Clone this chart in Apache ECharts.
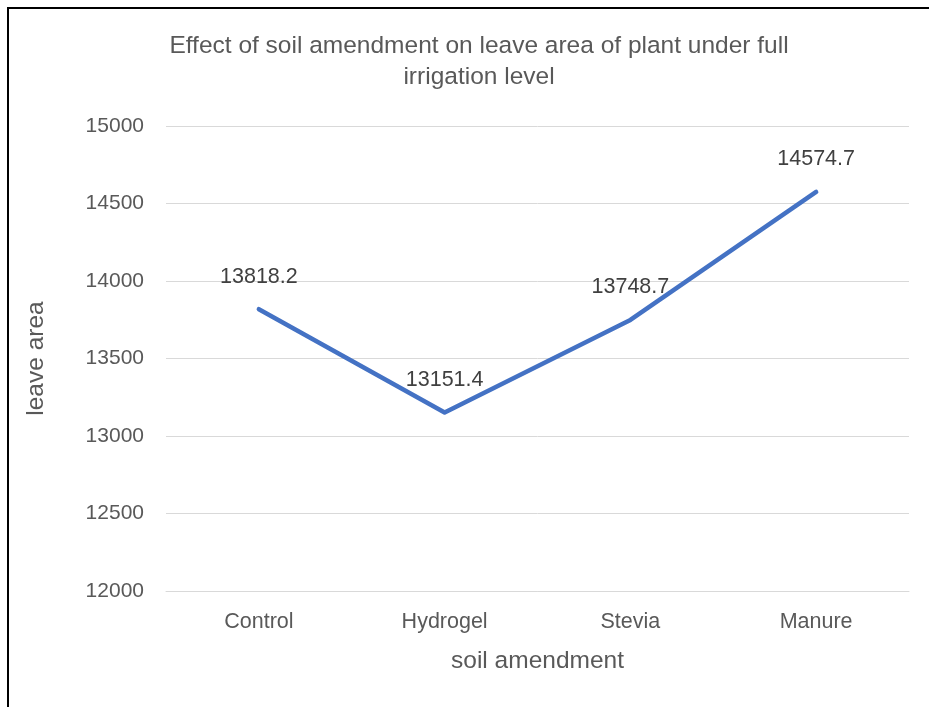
<!DOCTYPE html>
<html>
<head>
<meta charset="utf-8">
<script src="https://cdn.jsdelivr.net/npm/echarts@6/dist/echarts.min.js"></script>
<style>
    body { margin: 0; background: #fff; }
    .wrap { position: relative; width: 929px; height: 707px; }
    #chart { width: 929px; height: 707px; }
    .frame {
        position: absolute; left: 7px; top: 7px; right: -10px; bottom: -10px;
        border-left: 2px solid #000; border-top: 2px solid #000;
        pointer-events: none;
    }
</style>
</head>
<body>
<div class="wrap">
    <div id="chart"></div>
    <div class="frame"></div>
</div>
<script>
    // soil amendments on the x axis
    var categories = ['Control', 'Hydrogel', 'Stevia', 'Manure'];
    // leave area under full irrigation
    var leaveArea = [13818.2, 13151.4, 13748.7, 14574.7];

    var font = 'Liberation Sans, Arial, sans-serif';
    var chart = echarts.init(document.getElementById('chart'));
    chart.setOption({
        animation: false,
        title: {
            text: 'Effect of soil amendment on leave area of plant under full\nirrigation level',
            left: 474,
            top: 26,
            textAlign: 'center',
            textStyle: {
                fontFamily: font,
                fontSize: 24.5,
                fontWeight: 'normal',
                color: '#595959',
                lineHeight: 31,
                align: 'center'
            }
        },
        grid: {
            left: 166,
            right: 20,
            top: 126,
            bottom: 116
        },
        xAxis: {
            type: 'category',
            data: categories,
            boundaryGap: true,
            name: 'soil amendment',
            nameLocation: 'middle',
            nameGap: 58,
            nameTextStyle: { fontFamily: font, fontSize: 24.5, color: '#595959' },
            axisLine: { show: true, lineStyle: { color: '#d9d9d9', width: 1 } },
            axisTick: { show: false },
            axisLabel: { fontFamily: font, fontSize: 21.5, color: '#595959', margin: 20 }
        },
        yAxis: {
            type: 'value',
            min: 12000,
            max: 15000,
            interval: 500,
            name: 'leave area',
            nameLocation: 'middle',
            nameGap: 117,
            nameTextStyle: { fontFamily: font, fontSize: 24.5, color: '#595959' },
            axisLine: { show: false },
            axisTick: { show: false },
            axisLabel: {
                fontFamily: font, fontSize: 21, color: '#595959', margin: 22,
                formatter: function (v) { return String(v); }
            },
            splitLine: { lineStyle: { color: '#d9d9d9', width: 1 } }
        },
        series: [
            {
                name: 'leave area',
                type: 'line',
                data: leaveArea,
                showSymbol: true,
                symbol: 'circle',
                symbolSize: 3,
                itemStyle: { color: '#4472C4' },
                lineStyle: { color: '#4472C4', width: 4.5, cap: 'round', join: 'round' },
                label: {
                    show: true,
                    position: 'top',
                    distance: 20,
                    fontFamily: font,
                    fontSize: 21.5,
                    color: '#404040',
                    formatter: function (p) { return p.value.toFixed(1); }
                }
            }
        ]
    });
</script>
</body>
</html>
